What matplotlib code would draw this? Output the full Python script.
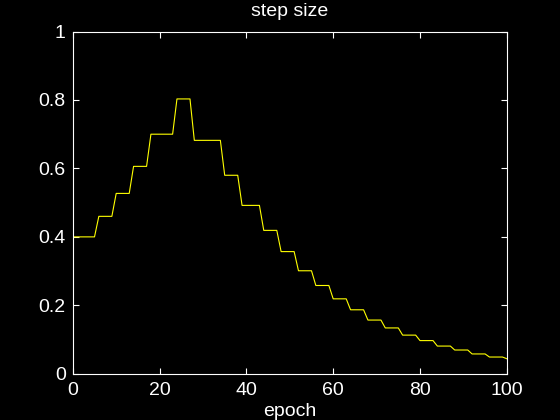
import matplotlib
matplotlib.use("Agg")
import matplotlib.pyplot as plt
import numpy as np

epochs = list(range(0, 101))
step_size = (
    [0.400] * 6 + [0.460] * 4 + [0.527] * 4 + [0.606] * 4 + [0.700] * 6 +
    [0.803] * 4 + [0.682] * 7 + [0.580] * 4 + [0.492] * 5 + [0.419] * 4 +
    [0.357] * 4 + [0.301] * 4 + [0.258] * 4 + [0.219] * 4 + [0.187] * 4 +
    [0.157] * 4 + [0.134] * 4 + [0.113] * 4 + [0.097] * 4 + [0.081] * 4 +
    [0.0695] * 4 + [0.058] * 4 + [0.049] * 4 + [0.044]
)
xticks = [0, 20, 40, 60, 80, 100]
yticks = [0, 0.2, 0.4, 0.6, 0.8, 1]
yticklabels = ["0", "0.2", "0.4", "0.6", "0.8", "1"]

plt.rcParams['font.family'] = ['Liberation Sans', 'DejaVu Sans']

fig = plt.figure(figsize=(5.6, 4.2), dpi=100, facecolor='black')
ax = fig.add_axes([0.13, 0.11, 0.775, 0.815], facecolor='black')
ax.plot(epochs, step_size, color='#ffff00', linewidth=0.8)
ax.set_xlim(0, 100)
ax.set_ylim(0, 1)
ax.set_xticks(xticks)
ax.set_yticks(yticks)
ax.set_yticklabels(yticklabels)
for s in ax.spines.values():
    s.set_color('white')
    s.set_linewidth(0.8)
ax.tick_params(colors='white', direction='in', length=4, width=0.8,
               top=True, right=True, labelsize=14, pad=5)
ax.tick_params(axis='x', pad=6)
ax.set_title('step size', color='white', fontsize=14, pad=11)
ax.set_xlabel('epoch', color='white', fontsize=14, labelpad=3)
fig.savefig('out.png', dpi=100, facecolor='black')
